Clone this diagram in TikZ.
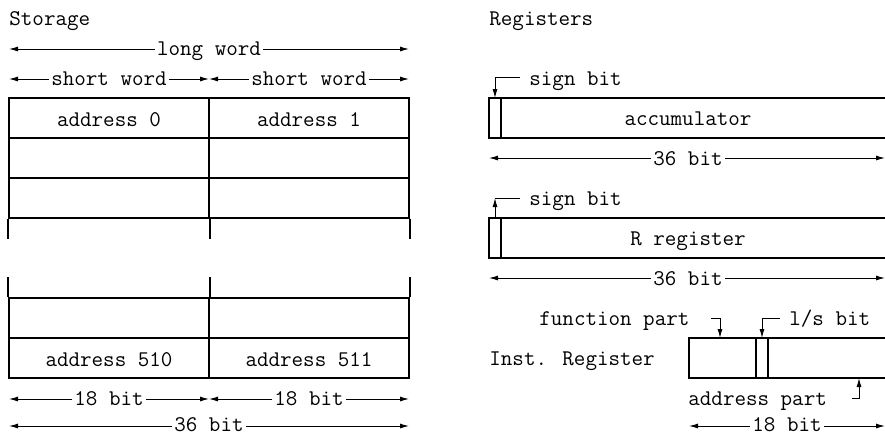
\documentclass[tikz,border=0pt]{standalone}
\usepackage{fontspec}
\usetikzlibrary{arrows.meta}
\begin{document}
\begin{tikzpicture}[x=0.5pt,y=-0.5pt,
  box/.style={line width=1pt},
  txt/.style={inner sep=0pt, font=\ttfamily\fontsize{11.2}{13}\selectfont},
  cell/.style={draw, line width=1pt, minimum width=100pt, minimum height=20pt,
    inner sep=0pt, text height=8pt, text depth=0pt, font=\ttfamily\fontsize{11.2}{13}\selectfont},
  dim/.style={line width=0.5pt, {Latex[length=4.5pt,width=2.5pt]}-{Latex[length=4.5pt,width=2.5pt]}},
  ptr/.style={line width=0.5pt, -{Latex[length=4.5pt,width=2.5pt]}},
  plain/.style={line width=0.5pt},
  dimlbl/.style={txt, fill=white, inner xsep=1pt, inner ysep=0pt, anchor=base}]
\useasboundingbox (0,0) rectangle (885,436);

% ---------- Storage ----------
\node[txt, anchor=base west] (storage) at (9,25) {Storage};

\coordinate (lwL) at (9,49); \coordinate (lwR) at (409,49);
\draw[dim] (lwL) -- (lwR);
\node[dimlbl] (lw) at (209,55) {long word};

\coordinate (swL) at (9,79); \coordinate (swM) at (209,79); \coordinate (swR) at (409,79);
\draw[dim] (swL) -- (swM);
\draw[dim] (swM) -- (swR);
\node[dimlbl] (sw1) at (109,85) {short word};
\node[dimlbl] (sw2) at (309,85) {short word};

\node[cell] (a0) at (109,118) {address 0};
\node[cell] (a1) at (309,118) {address 1};
\node[cell] (c1l) at (109,158) {};
\node[cell] (c1r) at (309,158) {};
\node[cell] (c2l) at (109,198) {};
\node[cell] (c2r) at (309,198) {};
\draw[box] (c2l.south west) -- ++(0,20);
\draw[box] (c2l.south east) -- ++(0,20);
\draw[box] (c2r.south east) -- ++(0,20);

\node[cell] (c3l) at (109,318) {};
\node[cell] (c3r) at (309,318) {};
\draw[box] (c3l.north west) -- ++(0,-20);
\draw[box] (c3l.north east) -- ++(0,-20);
\draw[box] (c3r.north east) -- ++(0,-20);
\node[cell] (a510) at (109,358) {address 510};
\node[cell] (a511) at (309,358) {address 511};

\coordinate (bL) at (9,399); \coordinate (bM) at (209,399); \coordinate (bR) at (409,399);
\draw[dim] (bL) -- (bM);
\draw[dim] (bM) -- (bR);
\node[dimlbl] (b1) at (109,405) {18 bit};
\node[dimlbl] (b2) at (309,405) {18 bit};

\coordinate (tL) at (9,426); \coordinate (tR) at (409,426);
\draw[dim] (tL) -- (tR);
\node[dimlbl] (t36) at (209,431) {36 bit};

% ---------- Registers ----------
\node[txt, anchor=base west] (registers) at (489,25) {Registers};

% accumulator
\draw[box] (885,98) -| (489,138) -- (885,138);
\draw[box] (501,98) -- (501,138);
\node[txt, anchor=base] (acc) at (688,125) {accumulator};
\node[txt, anchor=base west] (sb1) at (529,85) {sign bit};
\coordinate (sb1a) at (520,77); \coordinate (s1) at (495,98);
\draw[ptr] (sb1a) -| (s1);
\coordinate (accL) at (489,158); \coordinate (accR) at (885,158);
\draw[dim] (accL) -- (accR);
\node[dimlbl] (acc36) at (688,165) {36 bit};

% R register
\draw[box] (885,218) -| (489,258) -- (885,258);
\draw[box] (501,218) -- (501,258);
\node[txt, anchor=base] (rreg) at (688,245) {R register};
\node[txt, anchor=base west] (sb2) at (529,205) {sign bit};
\coordinate (s2) at (495,218); \coordinate (s2t) at (495,198); \coordinate (sb2a) at (520,198);
\draw[ptr] (s2) -- (s2t);
\draw[plain] (s2t) -- (sb2a);
\coordinate (rL) at (489,278); \coordinate (rR) at (885,278);
\draw[dim] (rL) -- (rR);
\node[dimlbl] (r36) at (688,285) {36 bit};

% Instruction register
\node[txt, anchor=base west] (inst) at (489,365) {Inst. Register};
\draw[box] (885,338) -| (689,378) -- (885,378);
\draw[box] (756,338) -- (756,378);
\draw[box] (768,338) -- (768,378);
\node[txt, anchor=base west] (fp) at (539,325) {function part};
\coordinate (fpa) at (711,318); \coordinate (fpt) at (720,338);
\draw[ptr] (fpa) -| (fpt);
\node[txt, anchor=base west] (ls) at (789,325) {l/s bit};
\coordinate (lsa) at (780,318); \coordinate (lst) at (762,338);
\draw[ptr] (lsa) -| (lst);
\node[txt, anchor=base west] (ap) at (688,405) {address part};
\coordinate (apa) at (852,398); \coordinate (apt) at (859,378);
\draw[ptr] (apa) -| (apt);
\coordinate (iL) at (689,426); \coordinate (iR) at (885,426);
\draw[dim] (iL) -- (iR);
\node[dimlbl] (i18) at (787,431) {18 bit};
\end{tikzpicture}
\end{document}
